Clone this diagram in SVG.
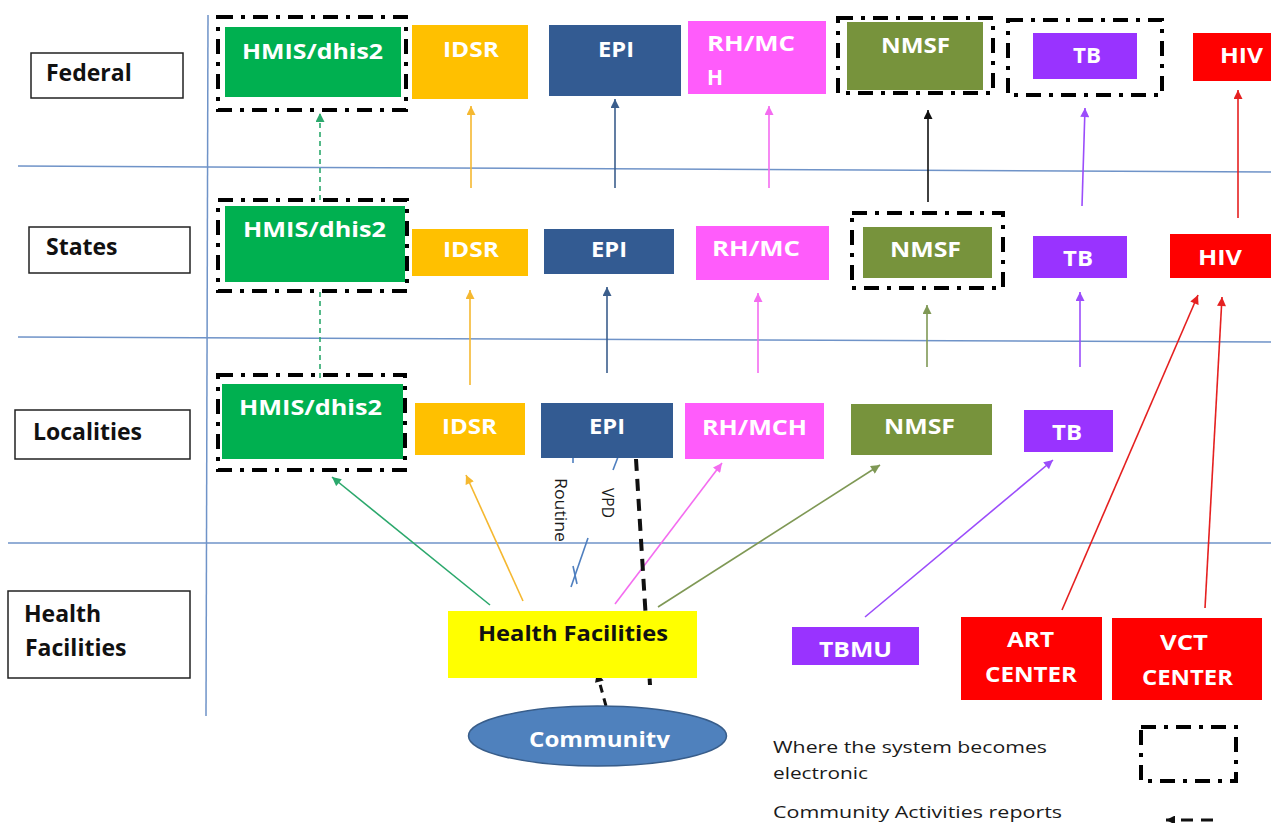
<svg xmlns="http://www.w3.org/2000/svg" width="1271" height="823" viewBox="0 0 1271 823">
<style>
.grid{stroke:#6f93c8;stroke-width:1.5;fill:none}
.lbl{fill:#fff;stroke:#222;stroke-width:1.5}
.lt{font-family:"Open Sans","Liberation Sans",sans-serif;font-weight:bold;font-size:23px;fill:#111}
.bt{font-family:"Open Sans","Liberation Sans",sans-serif;font-weight:bold;font-size:22px;fill:#fff}
.dk{fill:#111}
.ddot{fill:none;stroke:#000;stroke-width:4;stroke-dasharray:15 8 4 8}
.c{fill:none;stroke-width:1.6}
.leg{font-family:"Open Sans","Liberation Sans",sans-serif;font-size:17px;fill:#1a1a1a}
.rot{font-family:"Open Sans","Liberation Sans",sans-serif;font-size:17px;fill:#1a1a1a}
.green{fill:#00b050}.yel{fill:#ffc000}.blue{fill:#335b92}.pink{fill:#ff5cfb}.olive{fill:#77933c}.purp{fill:#9933ff}.red{fill:#ff0000}
</style>
<defs>
<marker id="mG" viewBox="0 0 10 10" refX="10" refY="5" markerWidth="10" markerHeight="9" markerUnits="userSpaceOnUse" orient="auto"><path d="M0,0L10,5L0,10z" fill="#2ba86c"/></marker>
<marker id="mY" viewBox="0 0 10 10" refX="10" refY="5" markerWidth="10" markerHeight="9" markerUnits="userSpaceOnUse" orient="auto"><path d="M0,0L10,5L0,10z" fill="#f5b830"/></marker>
<marker id="mB" viewBox="0 0 10 10" refX="10" refY="5" markerWidth="10" markerHeight="9" markerUnits="userSpaceOnUse" orient="auto"><path d="M0,0L10,5L0,10z" fill="#3b5e8c"/></marker>
<marker id="mP" viewBox="0 0 10 10" refX="10" refY="5" markerWidth="10" markerHeight="9" markerUnits="userSpaceOnUse" orient="auto"><path d="M0,0L10,5L0,10z" fill="#f46cf0"/></marker>
<marker id="mO" viewBox="0 0 10 10" refX="10" refY="5" markerWidth="10" markerHeight="9" markerUnits="userSpaceOnUse" orient="auto"><path d="M0,0L10,5L0,10z" fill="#7f9855"/></marker>
<marker id="mK" viewBox="0 0 10 10" refX="10" refY="5" markerWidth="10" markerHeight="9" markerUnits="userSpaceOnUse" orient="auto"><path d="M0,0L10,5L0,10z" fill="#111"/></marker>
<marker id="mU" viewBox="0 0 10 10" refX="10" refY="5" markerWidth="10" markerHeight="9" markerUnits="userSpaceOnUse" orient="auto"><path d="M0,0L10,5L0,10z" fill="#9b4dfb"/></marker>
<marker id="mR" viewBox="0 0 10 10" refX="10" refY="5" markerWidth="10" markerHeight="9" markerUnits="userSpaceOnUse" orient="auto"><path d="M0,0L10,5L0,10z" fill="#e52020"/></marker>
<clipPath id="commClip"><rect x="460" y="700" width="280" height="48"/></clipPath>
</defs>
<rect width="1271" height="823" fill="#fff"/>

<g id="grid">
<line class="grid" x1="208" y1="15" x2="206" y2="716"/>
<line class="grid" x1="18" y1="166" x2="1271" y2="172"/>
<line class="grid" x1="18" y1="337" x2="1271" y2="342"/>
<line class="grid" x1="8" y1="543" x2="1271" y2="543"/>
</g>

<g id="connectors">
<line class="c" stroke="#2ba86c" stroke-dasharray="5 4" x1="320" y1="200" x2="320" y2="113" marker-end="url(#mG)"/>
<line class="c" stroke="#2ba86c" stroke-dasharray="5 4" x1="320" y1="378" x2="320" y2="292"/>
<line class="c" stroke="#f5b830" x1="471" y1="188" x2="471" y2="106" marker-end="url(#mY)"/>
<line class="c" stroke="#3b5e8c" x1="615" y1="188" x2="615" y2="99" marker-end="url(#mB)"/>
<line class="c" stroke="#f46cf0" x1="769" y1="188" x2="769" y2="106" marker-end="url(#mP)"/>
<line class="c" stroke="#111" x1="928" y1="202" x2="928" y2="110" marker-end="url(#mK)"/>
<line class="c" stroke="#9b4dfb" x1="1082" y1="206" x2="1085" y2="108" marker-end="url(#mU)"/>
<line class="c" stroke="#e52020" x1="1238" y1="218" x2="1238" y2="90" marker-end="url(#mR)"/>
<line class="c" stroke="#f5b830" x1="470" y1="385" x2="470" y2="290" marker-end="url(#mY)"/>
<line class="c" stroke="#3b5e8c" x1="607" y1="373" x2="607" y2="287" marker-end="url(#mB)"/>
<line class="c" stroke="#f46cf0" x1="758" y1="373" x2="758" y2="293" marker-end="url(#mP)"/>
<line class="c" stroke="#7f9855" x1="927" y1="367" x2="927" y2="305" marker-end="url(#mO)"/>
<line class="c" stroke="#9b4dfb" x1="1080" y1="367" x2="1080" y2="292" marker-end="url(#mU)"/>
<line class="c" stroke="#e52020" x1="1062" y1="610" x2="1198" y2="295" marker-end="url(#mR)"/>
<line class="c" stroke="#e52020" x1="1205" y1="608" x2="1222" y2="297" marker-end="url(#mR)"/>
<line class="c" stroke="#2ba86c" x1="490" y1="605" x2="332" y2="477" marker-end="url(#mG)"/>
<line class="c" stroke="#f5b830" x1="523" y1="601" x2="466" y2="475" marker-end="url(#mY)"/>
<line class="c" stroke="#f46cf0" x1="615" y1="604" x2="722" y2="463" marker-end="url(#mP)"/>
<line class="c" stroke="#7f9855" x1="658" y1="607" x2="880" y2="465" marker-end="url(#mO)"/>
<line class="c" stroke="#9b4dfb" x1="865" y1="617" x2="1053" y2="460" marker-end="url(#mU)"/>
<line class="c" stroke="#4f7fbf" x1="573" y1="457" x2="573" y2="463"/>
<line class="c" stroke="#4f7fbf" x1="618" y1="457" x2="613" y2="470"/>
<line class="c" stroke="#4f7fbf" x1="588" y1="538" x2="571" y2="587"/>
<line class="c" stroke="#4f7fbf" x1="573" y1="566" x2="577" y2="584"/>
<line fill="none" stroke="#111" stroke-width="4" stroke-dasharray="12 8" x1="636" y1="459" x2="650" y2="685"/>
<line fill="none" stroke="#111" stroke-width="3" stroke-dasharray="8 6" x1="606" y1="706" x2="597" y2="673" marker-end="url(#mK)"/>
</g>

<g id="lbl-federal"><rect class="lbl" x="31" y="53" width="152" height="45"/><text class="lt" x="46" y="81">Federal</text></g>
<g id="lbl-states"><rect class="lbl" x="29" y="227" width="161" height="46"/><text class="lt" x="46" y="255">States</text></g>
<g id="lbl-localities"><rect class="lbl" x="15" y="410" width="175" height="49"/><text class="lt" x="33" y="440">Localities</text></g>
<g id="lbl-hf"><rect class="lbl" x="8" y="591" width="182" height="87"/><text class="lt" x="24" y="622">Health</text><text class="lt" x="25" y="656">Facilities</text></g>

<g id="fed-hmis"><rect class="green" x="225" y="27" width="176" height="70"/><rect class="ddot" x="218" y="17" width="188" height="93"/><text class="bt" x="242" y="59" textLength="141" lengthAdjust="spacingAndGlyphs">HMIS/dhis2</text></g>
<g id="fed-idsr"><rect class="yel" x="412" y="25" width="116" height="74"/><text class="bt" x="443" y="57" textLength="56" lengthAdjust="spacingAndGlyphs">IDSR</text></g>
<g id="fed-epi"><rect class="blue" x="549" y="25" width="132" height="71"/><text class="bt" x="598" y="57" textLength="36" lengthAdjust="spacingAndGlyphs">EPI</text></g>
<g id="fed-rh"><rect class="pink" x="688" y="21" width="138" height="73"/><text class="bt" x="707" y="51" textLength="88" lengthAdjust="spacingAndGlyphs">RH/MC</text><text class="bt" x="707" y="85" textLength="16" lengthAdjust="spacingAndGlyphs">H</text></g>
<g id="fed-nmsf"><rect class="olive" x="847" y="22" width="136" height="68"/><rect class="ddot" x="838" y="18" width="155" height="75"/><text class="bt" x="881" y="53" textLength="69" lengthAdjust="spacingAndGlyphs">NMSF</text></g>
<g id="fed-tb"><rect class="purp" x="1033" y="33" width="104" height="46"/><rect class="ddot" x="1008" y="20" width="154" height="75"/><text class="bt" x="1073" y="63" textLength="28" lengthAdjust="spacingAndGlyphs">TB</text></g>
<g id="fed-hiv"><rect class="red" x="1193" y="33" width="78" height="48"/><text class="bt" x="1220" y="63" textLength="43" lengthAdjust="spacingAndGlyphs">HIV</text></g>

<g id="st-hmis"><rect class="green" x="225" y="206" width="180" height="76"/><rect class="ddot" x="218" y="200" width="189" height="91"/><text class="bt" x="243" y="237" textLength="143" lengthAdjust="spacingAndGlyphs">HMIS/dhis2</text></g>
<g id="st-idsr"><rect class="yel" x="412" y="229" width="116" height="47"/><text class="bt" x="443" y="257" textLength="56" lengthAdjust="spacingAndGlyphs">IDSR</text></g>
<g id="st-epi"><rect class="blue" x="544" y="229" width="130" height="45"/><text class="bt" x="591" y="257" textLength="36" lengthAdjust="spacingAndGlyphs">EPI</text></g>
<g id="st-rh"><rect class="pink" x="696" y="226" width="133" height="54"/><text class="bt" x="712" y="256" textLength="88" lengthAdjust="spacingAndGlyphs">RH/MC</text></g>
<g id="st-nmsf"><rect class="olive" x="863" y="227" width="129" height="51"/><rect class="ddot" x="852" y="213" width="151" height="75"/><text class="bt" x="890" y="257" textLength="71" lengthAdjust="spacingAndGlyphs">NMSF</text></g>
<g id="st-tb"><rect class="purp" x="1033" y="236" width="94" height="42"/><text class="bt" x="1063" y="266" textLength="30" lengthAdjust="spacingAndGlyphs">TB</text></g>
<g id="st-hiv"><rect class="red" x="1170" y="234" width="101" height="44"/><text class="bt" x="1198" y="265" textLength="44" lengthAdjust="spacingAndGlyphs">HIV</text></g>

<g id="loc-hmis"><rect class="green" x="222" y="384" width="181" height="75"/><rect class="ddot" x="218" y="375" width="187" height="95"/><text class="bt" x="239" y="415" textLength="143" lengthAdjust="spacingAndGlyphs">HMIS/dhis2</text></g>
<g id="loc-idsr"><rect class="yel" x="415" y="403" width="110" height="52"/><text class="bt" x="442" y="434" textLength="55" lengthAdjust="spacingAndGlyphs">IDSR</text></g>
<g id="loc-epi"><rect class="blue" x="541" y="403" width="132" height="55"/><text class="bt" x="589" y="434" textLength="36" lengthAdjust="spacingAndGlyphs">EPI</text></g>
<g id="loc-rh"><rect class="pink" x="685" y="403" width="139" height="56"/><text class="bt" x="702" y="435" textLength="105" lengthAdjust="spacingAndGlyphs">RH/MCH</text></g>
<g id="loc-nmsf"><rect class="olive" x="851" y="404" width="141" height="51"/><text class="bt" x="884" y="434" textLength="71" lengthAdjust="spacingAndGlyphs">NMSF</text></g>
<g id="loc-tb"><rect class="purp" x="1024" y="410" width="89" height="42"/><text class="bt" x="1052" y="440" textLength="30" lengthAdjust="spacingAndGlyphs">TB</text></g>

<g id="routine-vpd">
<text class="rot" transform="translate(555,478) rotate(90)" textLength="64" lengthAdjust="spacingAndGlyphs">Routine</text>
<text class="rot" transform="translate(602,488) rotate(90)" textLength="30" lengthAdjust="spacingAndGlyphs">VPD</text>
</g>

<g id="hf"><rect x="448" y="611" width="249" height="67" fill="#ffff00"/><text class="bt dk" x="478" y="641" textLength="190" lengthAdjust="spacingAndGlyphs">Health Facilities</text></g>
<g id="tbmu"><rect class="purp" x="792" y="627" width="127" height="38"/><text class="bt" x="819" y="657" textLength="73" lengthAdjust="spacingAndGlyphs">TBMU</text></g>
<g id="art"><rect class="red" x="961" y="617" width="141" height="83"/><text class="bt" x="1007" y="647" textLength="47" lengthAdjust="spacingAndGlyphs">ART</text><text class="bt" x="985" y="682" textLength="92" lengthAdjust="spacingAndGlyphs">CENTER</text></g>
<g id="vct"><rect class="red" x="1112" y="618" width="150" height="82"/><text class="bt" x="1160" y="650" textLength="48" lengthAdjust="spacingAndGlyphs">VCT</text><text class="bt" x="1142" y="685" textLength="91" lengthAdjust="spacingAndGlyphs">CENTER</text></g>
<g id="community"><ellipse cx="597.5" cy="736" rx="129" ry="30" fill="#4f81bd" stroke="#385d8a" stroke-width="1.5"/><text class="bt" x="529" y="747" textLength="141" lengthAdjust="spacingAndGlyphs" clip-path="url(#commClip)">Community</text></g>

<g id="legend">
<text class="leg" x="773" y="753" textLength="274" lengthAdjust="spacingAndGlyphs">Where the system becomes</text>
<text class="leg" x="773" y="779" textLength="95" lengthAdjust="spacingAndGlyphs">electronic</text>
<rect class="ddot" x="1141" y="727" width="95" height="54"/>
<text class="leg" x="773" y="818" textLength="289" lengthAdjust="spacingAndGlyphs">Community Activities reports</text>
<line fill="none" stroke="#111" stroke-width="3" stroke-dasharray="12 8" x1="1213" y1="820" x2="1166" y2="820" marker-end="url(#mK)"/>
</g>
</svg>
